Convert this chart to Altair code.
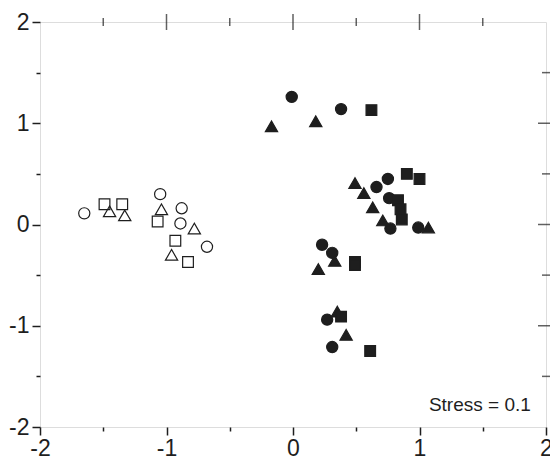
import altair as alt
import pandas as pd

# Open (hollow) markers
open_circle_x = [-1.65, -1.05, -0.88, -0.89, -0.68]
open_circle_y = [0.11, 0.30, 0.16, 0.01, -0.22]
open_square_x = [-1.49, -1.35, -1.07, -0.93, -0.83]
open_square_y = [0.20, 0.20, 0.03, -0.16, -0.37]
open_tri_x = [-1.45, -1.33, -1.04, -0.78, -0.96]
open_tri_y = [0.13, 0.09, 0.15, -0.04, -0.30]

# Filled markers
filled_circle_x = [-0.01, 0.38, 0.75, 0.66, 0.76, 0.77, 0.99, 0.23, 0.31, 0.27, 0.31]
filled_circle_y = [1.26, 1.14, 0.45, 0.37, 0.26, -0.04, -0.03, -0.20, -0.28, -0.94, -1.21]
filled_tri_x = [-0.17, 0.18, 0.49, 0.56, 0.63, 0.71, 1.07, 0.20, 0.33, 0.35, 0.42]
filled_tri_y = [0.97, 1.02, 0.41, 0.31, 0.17, 0.04, -0.03, -0.44, -0.36, -0.86, -1.09]
filled_sq_x = [0.62, 0.90, 1.00, 0.83, 0.85, 0.86, 0.49, 0.49, 0.38, 0.61]
filled_sq_y = [1.13, 0.50, 0.45, 0.24, 0.15, 0.05, -0.37, -0.40, -0.91, -1.25]

all_ticks = [-2, -1.5, -1, -0.5, 0, 0.5, 1, 1.5, 2]
major_ticks = [-1, 0, 1]
minor_ticks = [-1.5, -0.5, 0.5, 1.5]
stress_label = "Stress = 0.1"

W, H = 506, 405
SHAPE_SIZE = {"circle": 125, "square": 115, "triangle-up": 150}

rows = []
def add(xs, ys, shape, filled):
    for x, y in zip(xs, ys):
        rows.append({"x": x, "y": y, "shape": shape, "sz": SHAPE_SIZE[shape],
                     "fo": 1.0 if filled else 0.0})

add(open_circle_x, open_circle_y, "circle", False)
add(open_square_x, open_square_y, "square", False)
add(open_tri_x, open_tri_y, "triangle-up", False)
add(filled_circle_x, filled_circle_y, "circle", True)
add(filled_tri_x, filled_tri_y, "triangle-up", True)
add(filled_sq_x, filled_sq_y, "square", True)
df = pd.DataFrame(rows)

FONT = "Liberation Sans"
dom = [-2, 2]
INK = "#1e1e1e"
xs = alt.Scale(domain=dom, nice=False, zero=False)
ys = alt.Scale(domain=dom, nice=False, zero=False)

is_major = "datum.value % 1 === 0"

points = alt.Chart(df).mark_point(filled=True, fill=INK, stroke=INK, strokeWidth=1.2, opacity=1).encode(
    x=alt.X("x:Q", scale=xs,
            axis=alt.Axis(orient="bottom", values=all_ticks, title=None, domain=False, grid=False,
                          tickSize={"condition": {"test": is_major, "value": 8}, "value": 4},
                          tickColor=INK, tickWidth=1.5,
                          labelExpr=f"{is_major} ? ('' + datum.value) : ''",
                          labelFont=FONT, labelFontSize=23, labelColor=INK, labelPadding=2,
                          labelFlush=False, labelOverlap=False)),
    y=alt.Y("y:Q", scale=ys,
            axis=alt.Axis(orient="left", values=all_ticks, title=None, domain=False, grid=False,
                          tickSize={"condition": {"test": is_major, "value": 8}, "value": 4},
                          tickColor=INK, tickWidth=1.5,
                          labelExpr=f"{is_major} ? ('' + datum.value) : ''",
                          labelFont=FONT, labelFontSize=23, labelColor=INK, labelPadding=3,
                          labelFlush=False, labelOverlap=False)),
    shape=alt.Shape("shape:N", scale=None, legend=None),
    size=alt.Size("sz:Q", scale=None, legend=None),
    fillOpacity=alt.FillOpacity("fo:Q", scale=None, legend=None),
)

# Inward mirror ticks on the top and right edges (centred ticks, half clipped by the view)
top_major = alt.Chart(pd.DataFrame({"v": major_ticks})).mark_tick(
    orient="vertical", color=INK, thickness=1.5, size=16
).encode(x=alt.X("v:Q", scale=xs), y=alt.value(0))
top_minor = alt.Chart(pd.DataFrame({"v": minor_ticks})).mark_tick(
    orient="vertical", color=INK, thickness=1.5, size=8
).encode(x=alt.X("v:Q", scale=xs), y=alt.value(0))
right_major = alt.Chart(pd.DataFrame({"w": major_ticks})).mark_tick(
    orient="horizontal", color=INK, thickness=1.5, size=16
).encode(y=alt.Y("w:Q", scale=ys), x=alt.value(W))
right_minor = alt.Chart(pd.DataFrame({"w": minor_ticks})).mark_tick(
    orient="horizontal", color=INK, thickness=1.5, size=8
).encode(y=alt.Y("w:Q", scale=ys), x=alt.value(W))

text_df = pd.DataFrame({"x": [1.88], "y": [-1.78], "t": [stress_label]})
text = alt.Chart(text_df).mark_text(align="right", baseline="middle", font=FONT, fontSize=19, color=INK).encode(
    x=alt.X("x:Q", scale=xs), y=alt.Y("y:Q", scale=ys), text="t:N",
)

chart = alt.layer(
    points, top_major, top_minor, right_major, right_minor, text,
).properties(
    width=W, height=H,
    autosize=alt.AutoSizeParams(type="none"),
    padding={"left": 40, "top": 22, "right": 4, "bottom": 33},
).configure_view(stroke=INK, strokeWidth=1.5, clip=True).configure(background="white")

chart.save("out.html", embed_options={"renderer": "svg", "actions": False})
